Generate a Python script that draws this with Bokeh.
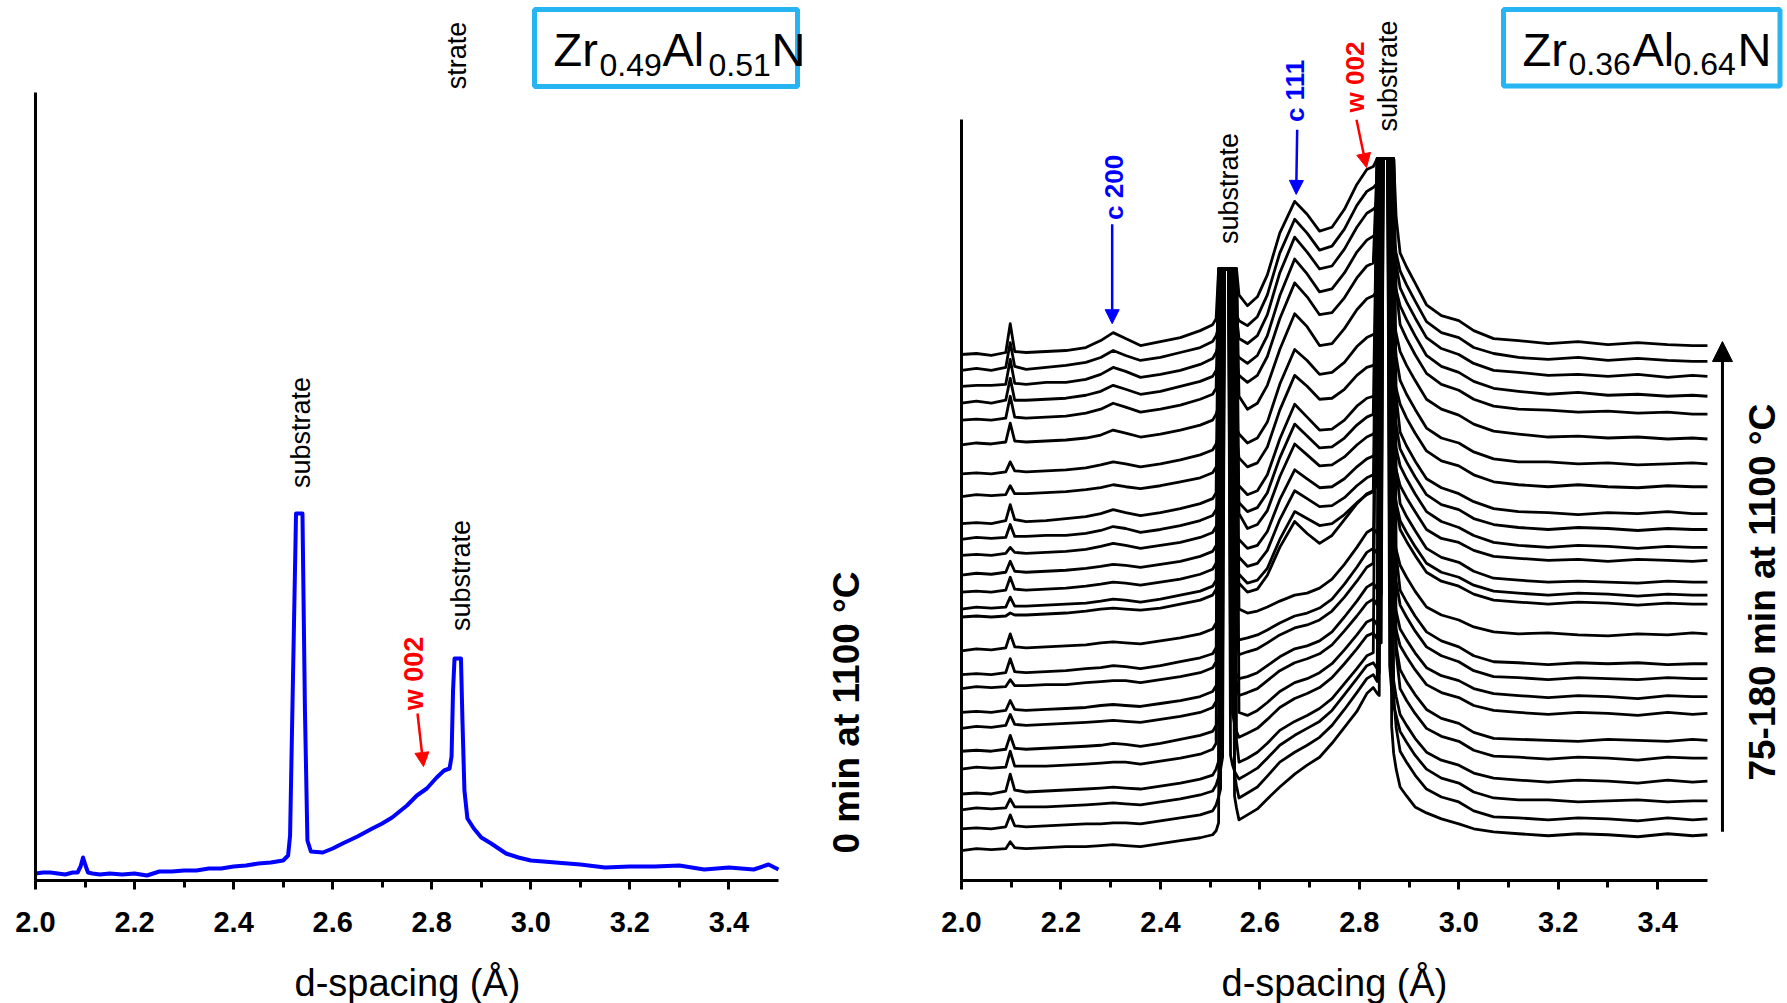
from bokeh.plotting import figure
from bokeh.layouts import row, column
from bokeh.models import (Range1d, SingleIntervalTicker, PrintfTickFormatter, FixedTicker,
                          Arrow, NormalHead)
from bokeh.core.properties import value
from bokeh.embed import file_html
from bokeh.resources import INLINE

FONT = "Liberation Sans"
BOXC = "#27b4f2"

# ---------------- left panel: Zr0.49Al0.51N, 0 min at 1100 C ----------------
left_d = [2.000, 2.015, 2.030, 2.045, 2.060, 2.075, 2.085, 2.091, 2.096, 2.101,
          2.106, 2.115, 2.130, 2.150, 2.175, 2.200, 2.225, 2.250, 2.275, 2.300,
          2.325, 2.350, 2.375, 2.400, 2.425, 2.450, 2.475, 2.500, 2.510, 2.514,
          2.519, 2.526, 2.539, 2.544, 2.549, 2.556, 2.580, 2.600, 2.620, 2.650,
          2.680, 2.700, 2.720, 2.750, 2.770, 2.790, 2.810, 2.825, 2.836, 2.840,
          2.843, 2.846, 2.859, 2.862, 2.866, 2.872, 2.885, 2.900, 2.920, 2.950,
          2.975, 3.000, 3.050, 3.100, 3.150, 3.200, 3.250, 3.300, 3.350, 3.400,
          3.450, 3.480, 3.500]
left_i = [7, 8, 8, 7, 6, 8, 8, 14, 23, 15,
          8, 7, 6, 7, 6, 7, 5, 9, 9, 10,
          10, 12, 12, 14, 15, 17, 18, 20, 25, 45,
          180, 367, 367, 170, 40, 29, 28, 32, 37, 44,
          52, 57, 63, 75, 85, 92, 103, 110, 112, 124,
          190, 222, 222, 160, 90, 62, 52, 43, 37, 27,
          23, 20, 18, 16, 13, 14, 14, 15, 11, 13,
          11, 16, 11]

# ---------------- right panel: Zr0.36Al0.64N, 75-180 min at 1100 C ----------------
d_grid = [2.000, 2.030, 2.060, 2.089, 2.098, 2.107, 2.130, 2.170, 2.210, 2.250,
          2.280, 2.305, 2.330, 2.360, 2.400, 2.440, 2.480, 2.505,
          2.512, 2.517, 2.521, 2.525, 2.529, 2.533, 2.537, 2.541, 2.545, 2.549, 2.553, 2.558,
          2.575, 2.595, 2.615, 2.640, 2.670, 2.695, 2.720, 2.745, 2.770, 2.795, 2.815, 2.828,
          2.836, 2.840, 2.844, 2.848, 2.852, 2.857, 2.861, 2.865, 2.869, 2.874, 2.882,
          2.895, 2.912, 2.935, 2.965, 3.000, 3.030, 3.070, 3.120, 3.180, 3.240, 3.300,
          3.360, 3.420, 3.470, 3.500]

# waterfall offsets of the scans, first (bottom, 75 min) to last (top, 180 min)
offsets = [30, 52, 71, 87, 112, 130, 153, 169, 193, 207, 231, 265, 273,
           290, 307, 327, 343, 359, 386, 409, 438, 463, 480, 497, 513, 529]

# intensity of each scan above its own offset (substrate peaks cut off at the display limit)
s01 = [0, 2, 1, 2, 9, 3, 2, 3, 4, 4, 5, 6, 5, 4, 7, 10, 13, 16,
       20, 28, 585, 585, 585, 585, 585, 585, 585, 55, 43, 31,
       36, 42, 52, 64, 77, 86, 94, 108, 124, 140, 158, 164,
       158, 156, 696, 696, 696, 696, 696, 125, 98, 82, 64,
       55, 44, 38, 32, 27, 22, 19, 17, 15, 17, 16, 14, 17, 15, 16]
s02 = [0, 1, 0, 2, 14, 3, 2, 3, 4, 5, 5, 6, 6, 5, 8, 11, 14, 18,
       24, 32, 40, 563, 563, 563, 563, 563, 563, 55, 43, 31,
       36, 42, 53, 67, 77, 84, 92, 104, 120, 137, 151, 155,
       148, 674, 674, 674, 674, 674, 674, 674, 134, 102, 78,
       67, 54, 40, 32, 27, 18, 12, 11, 9, 11, 10, 8, 11, 9, 10]
s03 = [0, 2, 1, 2, 11, 3, 3, 3, 4, 5, 6, 7, 6, 5, 8, 11, 15, 19,
       25, 33, 41, 53, 544, 544, 544, 55, 45, 39, 35, 31,
       36, 42, 52, 65, 75, 82, 89, 100, 116, 132, 145, 148,
       142, 138, 655, 655, 655, 655, 145, 120, 105, 95, 79,
       68, 55, 41, 32, 27, 18, 12, 10, 10, 8, 9, 10, 8, 9, 9]
s04 = [0, 1, 0, 3, 20, 4, 2, 3, 4, 5, 6, 7, 6, 5, 8, 11, 15, 19,
       25, 33, 528, 528, 528, 528, 528, 528, 528, 528, 54, 32,
       36, 42, 51, 64, 73, 79, 86, 96, 111, 126, 139, 142,
       639, 639, 639, 639, 639, 639, 639, 141, 114, 98, 80,
       69, 56, 42, 34, 29, 21, 16, 14, 12, 14, 13, 11, 14, 12, 13]
s05 = [0, 2, 1, 2, 18, 3, 3, 3, 4, 5, 6, 7, 7, 5, 8, 11, 15, 20,
       26, 503, 503, 503, 503, 503, 503, 503, 56, 46, 38, 32,
       36, 41, 50, 62, 71, 76, 82, 92, 106, 121, 134, 137,
       131, 128, 127, 614, 614, 614, 614, 614, 614, 117, 81,
       69, 56, 41, 33, 28, 19, 13, 12, 10, 12, 11, 9, 12, 11, 11]
s06 = [0, 1, 0, 2, 16, 3, 2, 3, 4, 5, 6, 8, 7, 5, 8, 12, 16, 20,
       26, 34, 42, 485, 485, 485, 485, 485, 485, 485, 485, 39,
       36, 41, 49, 60, 69, 73, 79, 88, 102, 117, 130, 133,
       127, 123, 596, 596, 596, 596, 596, 596, 138, 106, 82,
       70, 57, 42, 33, 28, 19, 13, 12, 11, 10, 12, 11, 10, 12, 11]
s07 = [0, 2, 1, 3, 14, 4, 3, 4, 5, 6, 7, 8, 7, 6, 9, 12, 16, 21,
       27, 35, 462, 462, 462, 462, 462, 462, 462, 57, 45, 33,
       36, 40, 48, 58, 66, 70, 75, 84, 98, 113, 126, 130,
       124, 573, 573, 573, 573, 573, 149, 124, 109, 99, 83,
       72, 59, 44, 36, 31, 23, 18, 16, 14, 16, 15, 13, 16, 14, 15]
s08 = [0, 1, 0, 2, 12, 3, 2, 3, 4, 5, 7, 8, 7, 6, 9, 12, 16, 21,
       27, 35, 43, 55, 446, 446, 446, 58, 48, 42, 38, 34,
       36, 40, 47, 56, 64, 67, 72, 81, 96, 112, 126, 130,
       124, 120, 119, 557, 557, 557, 557, 145, 118, 102, 84,
       73, 60, 45, 37, 32, 24, 19, 17, 15, 17, 16, 14, 17, 16, 16]
s09 = [0, 2, 1, 2, 9, 3, 3, 4, 4, 6, 7, 8, 8, 6, 9, 12, 16, 21,
       27, 422, 422, 422, 422, 422, 422, 422, 422, 422, 56, 34,
       37, 40, 46, 54, 61, 64, 69, 78, 92, 108, 122, 126,
       533, 533, 533, 533, 533, 533, 533, 533, 140, 108, 84,
       72, 58, 42, 33, 27, 18, 12, 11, 9, 11, 10, 9, 11, 10, 10]
s10 = [0, 1, 0, 2, 16, 3, 2, 3, 4, 6, 7, 9, 8, 6, 9, 13, 17, 21,
       27, 35, 43, 408, 408, 408, 408, 408, 59, 49, 41, 35,
       37, 40, 45, 52, 59, 62, 67, 76, 91, 108, 123, 127,
       122, 116, 519, 519, 519, 519, 519, 519, 519, 121, 85,
       73, 59, 43, 34, 28, 19, 13, 12, 10, 12, 11, 12, 10, 11, 11]
s11 = [0, 2, 1, 3, 17, 4, 3, 4, 5, 6, 8, 9, 8, 7, 10, 13, 17, 22,
       28, 36, 384, 384, 384, 384, 384, 384, 384, 384, 384, 42,
       38, 40, 44, 50, 56, 58, 63, 72, 87, 104, 119, 123,
       118, 114, 112, 495, 495, 495, 152, 127, 112, 102, 86,
       74, 60, 44, 36, 31, 24, 19, 17, 18, 16, 15, 17, 16, 18, 17]
s12 = [0, 1, 0, 1, 4, 2, 2, 3, 4, 6, 8, 9, 8, 7, 9, 13, 17, 22,
       28, 36, 44, 56, 350, 350, 350, 350, 350, 58, 46, 34,
       25, 28, 42, 70, 96, 84, 74, 82, 98, 114, 124, 127,
       132, 461, 461, 461, 461, 461, 461, 461, 144, 112, 88,
       76, 62, 45, 36, 31, 23, 17, 15, 13, 15, 14, 12, 14, 13, 13]
s13 = [0, 2, 1, 2, 12, 3, 3, 4, 5, 6, 8, 10, 9, 7, 10, 14, 18, 23,
       29, 342, 342, 342, 342, 342, 342, 59, 49, 43, 39, 35,
       26, 29, 41, 70, 98, 91, 84, 86, 95, 107, 115, 118,
       453, 453, 453, 453, 453, 453, 453, 150, 123, 107, 89,
       77, 63, 46, 37, 32, 24, 18, 16, 14, 16, 15, 13, 15, 14, 14]
s14 = [0, 1, 0, 2, 15, 3, 2, 3, 4, 6, 8, 10, 9, 7, 10, 13, 18, 23,
       29, 37, 45, 325, 325, 325, 325, 325, 325, 325, 57, 35,
       26, 29, 42, 73, 102, 94, 86, 87, 95, 107, 115, 118,
       126, 132, 436, 436, 436, 436, 436, 436, 436, 125, 89,
       76, 62, 44, 35, 30, 21, 14, 12, 10, 11, 10, 9, 11, 10, 10]
s15 = [0, 2, 1, 3, 14, 4, 3, 4, 5, 7, 9, 11, 10, 8, 11, 14, 19, 24,
       30, 38, 46, 58, 308, 308, 308, 308, 60, 50, 42, 36,
       27, 30, 44, 76, 106, 97, 88, 89, 97, 109, 117, 120,
       126, 419, 419, 419, 419, 419, 156, 131, 116, 106, 90,
       78, 64, 46, 37, 33, 25, 19, 17, 15, 16, 14, 16, 15, 14, 15]
s16 = [0, 1, 0, 2, 8, 3, 2, 3, 4, 6, 9, 12, 10, 7, 10, 13, 18, 23,
       29, 37, 288, 288, 288, 288, 288, 288, 288, 288, 288, 42,
       27, 31, 45, 79, 112, 101, 90, 91, 99, 111, 119, 122,
       128, 132, 135, 399, 399, 399, 399, 151, 124, 108, 90,
       77, 62, 44, 34, 28, 20, 13, 10, 8, 10, 9, 7, 9, 8, 8]
s17 = [0, 2, 1, 2, 15, 3, 3, 4, 4, 6, 9, 13, 11, 7, 10, 14, 19, 24,
       30, 38, 46, 272, 272, 272, 272, 272, 272, 61, 49, 37,
       28, 32, 47, 82, 116, 104, 92, 93, 102, 115, 123, 126,
       383, 383, 383, 383, 383, 383, 383, 383, 147, 115, 91,
       78, 63, 45, 35, 30, 21, 15, 12, 10, 12, 11, 9, 11, 10, 10]
s18 = [0, 1, 0, 3, 19, 4, 2, 3, 5, 7, 10, 14, 11, 8, 11, 15, 20, 25,
       31, 256, 256, 256, 256, 256, 256, 62, 52, 46, 42, 38,
       29, 33, 49, 85, 120, 107, 94, 95, 104, 118, 126, 128,
       134, 140, 367, 367, 367, 367, 367, 367, 367, 128, 92,
       78, 63, 45, 36, 30, 22, 15, 12, 11, 9, 11, 10, 12, 10, 10]
s19 = [0, 2, 1, 2, 11, 3, 3, 4, 5, 7, 9, 12, 10, 8, 11, 15, 19, 24,
       30, 38, 229, 229, 229, 229, 229, 229, 229, 229, 61, 39,
       30, 34, 50, 87, 122, 111, 98, 99, 108, 122, 130, 132,
       138, 340, 340, 340, 340, 340, 159, 134, 119, 109, 93,
       79, 64, 46, 36, 31, 22, 15, 12, 10, 12, 10, 9, 11, 10, 10]
s20 = [0, 1, 0, 2, 12, 3, 2, 3, 4, 6, 9, 12, 10, 7, 10, 14, 19, 24,
       30, 38, 46, 58, 206, 206, 206, 206, 64, 54, 46, 40,
       31, 36, 52, 90, 125, 114, 100, 102, 112, 128, 137, 140,
       144, 148, 150, 317, 317, 317, 317, 317, 150, 118, 94,
       80, 65, 46, 36, 31, 22, 15, 12, 12, 10, 11, 9, 10, 11, 10]
s21 = [0, 2, 1, 3, 22, 4, 3, 4, 5, 7, 10, 15, 12, 8, 11, 15, 20, 25,
       31, 39, 47, 177, 177, 177, 177, 177, 177, 177, 177, 49,
       36, 42, 60, 96, 132, 119, 100, 102, 117, 136, 147, 150,
       155, 160, 288, 288, 288, 288, 288, 155, 128, 112, 94,
       80, 65, 46, 36, 30, 21, 14, 11, 8, 9, 7, 8, 6, 7, 6]
s22 = [0, 1, 0, 2, 24, 3, 2, 3, 4, 7, 11, 17, 13, 8, 11, 15, 21, 26,
       32, 152, 152, 152, 152, 152, 152, 152, 152, 69, 57, 45,
       38, 45, 64, 102, 138, 124, 106, 108, 123, 143, 155, 158,
       263, 263, 263, 263, 263, 263, 263, 263, 263, 132, 96,
       82, 66, 47, 36, 30, 21, 14, 11, 10, 8, 9, 7, 8, 6, 6]
s23 = [0, 2, 0, 3, 25, 3, 3, 4, 5, 8, 12, 18, 14, 9, 12, 17, 22, 27,
       33, 41, 49, 61, 135, 135, 135, 70, 60, 54, 50, 46,
       40, 48, 68, 108, 145, 130, 112, 115, 131, 152, 164, 168,
       172, 176, 178, 246, 246, 246, 164, 139, 124, 114, 98,
       84, 68, 48, 37, 31, 22, 15, 12, 9, 11, 8, 9, 7, 8, 7]
s24 = [0, 1, 1, 2, 27, 3, 2, 4, 4, 7, 12, 19, 15, 9, 12, 16, 22, 28,
       34, 42, 118, 118, 118, 118, 118, 118, 118, 118, 70, 48,
       43, 51, 72, 114, 150, 135, 118, 121, 138, 160, 174, 178,
       182, 229, 229, 229, 229, 229, 229, 229, 155, 123, 99,
       85, 69, 49, 38, 32, 23, 16, 14, 11, 12, 10, 12, 9, 11, 10]
s25 = [0, 2, 0, 3, 28, 4, 1, 3, 5, 8, 13, 20, 15, 10, 13, 18, 23, 29,
       35, 43, 51, 102, 102, 102, 102, 102, 74, 64, 56, 50,
       45, 54, 76, 118, 152, 138, 121, 125, 142, 166, 180, 184,
       188, 190, 213, 213, 213, 213, 213, 161, 134, 118, 100,
       86, 70, 49, 38, 33, 23, 17, 13, 11, 13, 10, 12, 10, 9, 9]
s26 = [0, 1, -1, 2, 31, 3, 2, 3, 4, 7, 14, 22, 16, 9, 13, 17, 24, 30,
       36, 86, 86, 86, 86, 86, 86, 86, 86, 86, 86, 60,
       49, 58, 80, 122, 154, 141, 124, 128, 146, 171, 186, 189,
       197, 197, 197, 197, 197, 197, 197, 197, 197, 138, 102,
       88, 72, 50, 39, 34, 24, 16, 14, 11, 13, 10, 12, 10, 9, 9]

scans = [s01, s02, s03, s04, s05, s06, s07, s08, s09, s10, s11, s12, s13,
         s14, s15, s16, s17, s18, s19, s20, s21, s22, s23, s24, s25, s26]

x_title = "d-spacing (Å)"


def style_axes(p, y_top):
    xa = p.xaxis[0]
    xa.bounds = (2.0, 3.5)
    xa.ticker = SingleIntervalTicker(interval=0.2, num_minor_ticks=2)
    xa.formatter = PrintfTickFormatter(format="%.1f")
    xa.axis_line_width = 3
    xa.axis_line_color = "black"
    xa.major_tick_line_width = 3
    xa.minor_tick_line_width = 3
    xa.major_tick_line_color = "black"
    xa.minor_tick_line_color = "black"
    xa.major_tick_out = 9
    xa.major_tick_in = 0
    xa.minor_tick_out = 7
    xa.minor_tick_in = 0
    xa.major_label_text_font = FONT
    xa.major_label_text_font_size = "29px"
    xa.major_label_text_font_style = "bold"
    xa.major_label_text_color = "black"
    xa.major_label_standoff = 22
    ya = p.yaxis[0]
    ya.bounds = (0, y_top)
    ya.ticker = FixedTicker(ticks=[])
    ya.major_label_text_font_size = "0px"
    ya.major_tick_line_color = None
    ya.minor_tick_line_color = None
    ya.axis_line_width = 3
    ya.axis_line_color = "black"
    p.grid.visible = False


def title_strip(width, cx):
    # strip under a panel that carries the x-axis title, centred under 2.0-3.5
    t = figure(width=width, height=53, output_backend="svg", toolbar_location=None, tools="",
               x_range=Range1d(0, width), y_range=Range1d(0, 53),
               min_border_left=0, min_border_right=0, min_border_top=0, min_border_bottom=0,
               background_fill_color="white", border_fill_color="white", outline_line_color=None)
    t.axis.visible = False
    t.grid.visible = False
    t.text(x=[cx], y=[21], text=[x_title], text_font=value(FONT), text_font_size=value("38px"),
           text_color="black", text_align="center", text_baseline="middle")
    return t


def rot_text(p, x, y, txt, size, color="black", bold=False):
    p.text(x=[x], y=[y], text=[txt], angle=1.5707963, text_font=value(FONT),
           text_font_size=value(size), text_font_style="bold" if bold else "normal",
           text_color=color, text_align="center", text_baseline="middle")


def formula(p, parts, xs, y_main, y_sub, box):
    l, r, t, b = box
    p.quad(left=[l], right=[r], top=[t], bottom=[b], fill_color="white",
           line_color=BOXC, line_width=5)
    for i, (txt, x) in enumerate(zip(parts, xs)):
        sub = i % 2 == 1
        p.text(x=[x], y=[y_sub if sub else y_main], text=[txt], text_font=value(FONT),
               text_font_size=value("32px" if sub else "47px"), text_color="black",
               text_align="left", text_baseline="middle")


# ---------------- left figure ----------------
p1 = figure(width=870, height=950, output_backend="svg", toolbar_location=None, tools="",
            x_range=Range1d(2.0, 2.0 + 835 / 495.3), y_range=Range1d(0, 880),
            min_border_left=35, min_border_right=0, min_border_top=0, min_border_bottom=70,
            background_fill_color="white", border_fill_color="white", outline_line_color=None)
style_axes(p1, 788)
p1.line(left_d, left_i, line_color="#0000ff", line_width=4, line_join="round")

rot_text(p1, 2.850, 825, "strate", "27px")
rot_text(p1, 2.537, 448, "substrate", "27px")
rot_text(p1, 2.860, 305, "substrate", "27px")
rot_text(p1, 2.7642, 207, "w 002", "27px", color="#ff0000", bold=True)
rot_text(p1, 3.6374, 168, "0 min at 1100 °C", "37px", bold=True)
p1.add_layout(Arrow(end=NormalHead(size=14, fill_color="#ff0000", line_color="#ff0000"),
                    x_start=2.7713, y_start=167, x_end=2.7834, y_end=114,
                    line_color="#ff0000", line_width=2.5))
formula(p1, ["Zr", "0.49", "Al", "0.51", "N"],
        [3.04583, 3.13871, 3.26590, 3.35878, 3.48597], 831, 816,
        (3.0075, 3.5385, 871, 794))

# ---------------- right figure ----------------
p2 = figure(width=917, height=950, output_backend="svg", toolbar_location=None, tools="",
            x_range=Range1d(2.0, 2.0 + 826 / 497.3), y_range=Range1d(0, 885),
            min_border_left=91, min_border_right=0, min_border_top=0, min_border_bottom=65,
            background_fill_color="white", border_fill_color="white", outline_line_color=None)
style_axes(p2, 765)
xs = [d_grid for _ in scans]
ys = [[o + v for v in s] for o, s in zip(offsets, scans)]
p2.multi_line(xs=xs, ys=ys, line_color="black", line_width=2.8, line_join="round")

rot_text(p2, 2.3067, 697, "c 200", "26px", color="#0000ff", bold=True)
rot_text(p2, 2.5369, 696, "substrate", "27px")
rot_text(p2, 2.6716, 794, "c 111", "26px", color="#0000ff", bold=True)
rot_text(p2, 2.7903, 808, "w 002", "26px", color="#ff0000", bold=True)
rot_text(p2, 2.8586, 809, "substrate", "27px")
rot_text(p2, 3.6107, 290, "75-180 min at 1100 °C", "37px", bold=True)
p2.add_layout(Arrow(end=NormalHead(size=14, fill_color="#0000ff", line_color="#0000ff"),
                    x_start=2.3030, y_start=660, x_end=2.3030, y_end=560,
                    line_color="#0000ff", line_width=2.5))
p2.add_layout(Arrow(end=NormalHead(size=14, fill_color="#0000ff", line_color="#0000ff"),
                    x_start=2.6750, y_start=755, x_end=2.6730, y_end=690,
                    line_color="#0000ff", line_width=2.5))
p2.add_layout(Arrow(end=NormalHead(size=14, fill_color="#ff0000", line_color="#ff0000"),
                    x_start=2.7943, y_start=765, x_end=2.8144, y_end=717,
                    line_color="#ff0000", line_width=2.5))
p2.add_layout(Arrow(end=NormalHead(size=20, fill_color="black", line_color="black"),
                    x_start=3.5302, y_start=49, x_end=3.5302, y_end=542,
                    line_color="black", line_width=3))
formula(p2, ["Zr", "0.36", "Al", "0.64", "N"],
        [3.12809, 3.22059, 3.34929, 3.43173, 3.56042], 836, 821,
        (3.08989, 3.64589, 876, 799))

t1 = title_strip(870, 407)
t2 = title_strip(917, 464)

layout = column(row(p1, p2), row(t1, t2))
open("out.html", "w").write(file_html(layout, INLINE))
